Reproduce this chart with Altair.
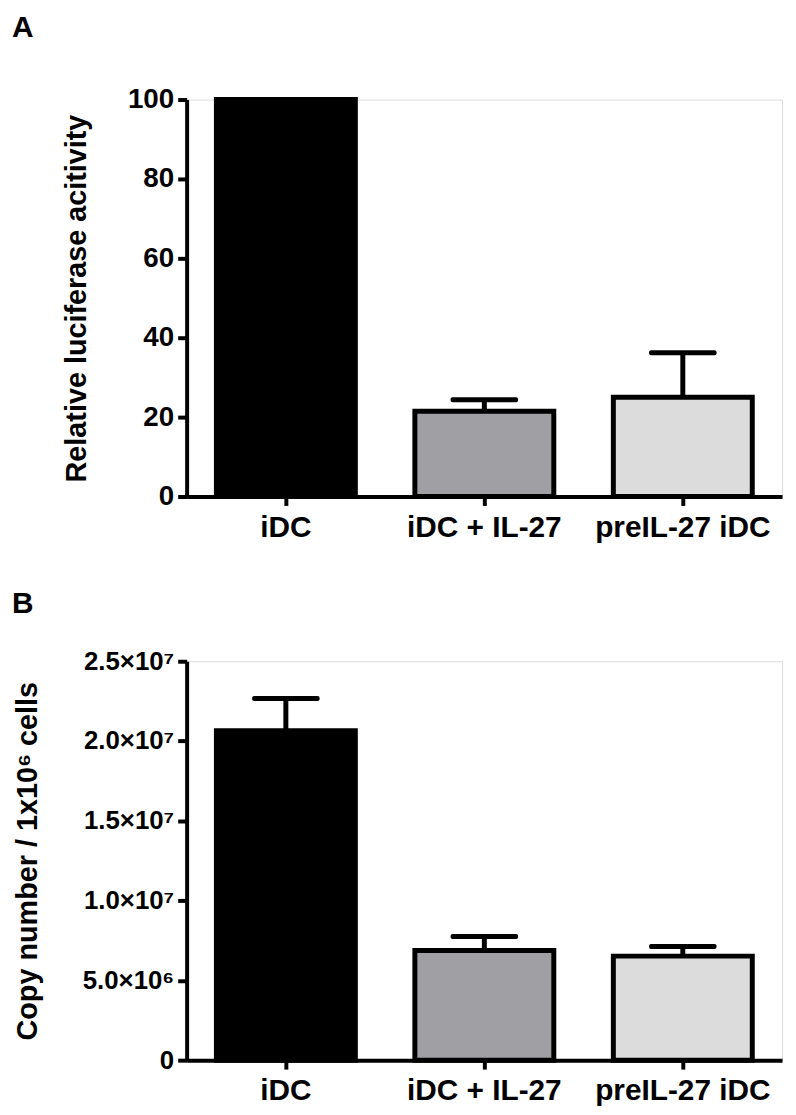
import altair as alt
import pandas as pd

categories = ["iDC", "iDC + IL-27", "preIL-27 iDC"]
fills = ["#000000", "#a0a0a4", "#dcdcdc"]

luc_mean = [100.0, 21.5, 25.0]
luc_sem = [0.0, 2.9, 11.2]
luc_ticks = [0, 20, 40, 60, 80, 100]

copy_mean = [2.064e7, 0.687e7, 0.652e7]
copy_sem = [0.202e7, 0.088e7, 0.060e7]
copy_ticks = [0, 5e6, 1e7, 1.5e7, 2e7, 2.5e7]
copy_tick_labels = ["0", "5.0\u00d710\u2076", "1.0\u00d710\u2077", "1.5\u00d710\u2077",
                    "2.0\u00d710\u2077", "2.5\u00d710\u2077"]

FONT = "Liberation Sans"


def make_df(means, sems):
    return pd.DataFrame({
        "cat": categories,
        "mean": means,
        "top": [m + s for m, s in zip(means, sems)],
        "sem": sems,
    })


def panel(df, letter, ytitle, ydomain, yticks, label_expr, label_size, title_pad,
          letter_offset, height):
    x_enc = alt.X("cat:N", sort=categories,
                  scale=alt.Scale(paddingInner=0.3, paddingOuter=0.15),
                  axis=alt.Axis(title=None, labelAngle=0, labelAlign="center",
                                labelBaseline="top", labelFontSize=30,
                                labelFont=FONT, labelFontWeight="bold",
                                labelColor="black", labelPadding=7,
                                domainColor="black", domainWidth=4,
                                tickColor="black", tickWidth=4, tickSize=9))
    axis_kw = dict(title=ytitle, values=yticks, grid=False,
                   labelFontSize=label_size, labelFont=FONT,
                   labelFontWeight="bold", labelColor="black", labelPadding=4,
                   titleFontSize=29, titleFont=FONT, titleFontWeight="bold",
                   titleColor="black", titlePadding=title_pad,
                   domainColor="black", domainWidth=4,
                   tickColor="black", tickWidth=4, tickSize=9)
    if label_expr:
        axis_kw["labelExpr"] = label_expr
    y_axis = alt.Axis(**axis_kw)
    yscale = alt.Scale(domain=ydomain, nice=False)
    base = alt.Chart(df)
    bars = base.mark_bar(stroke="black", strokeWidth=5).encode(
        x=x_enc,
        y=alt.Y("mean:Q", scale=yscale, axis=y_axis),
        fill=alt.Fill("cat:N", sort=categories,
                      scale=alt.Scale(domain=categories, range=fills), legend=None),
    )
    errdf = base.transform_filter("datum.sem > 0")
    rule = errdf.mark_rule(color="black", strokeWidth=5).encode(
        x=x_enc,
        y=alt.Y("mean:Q", scale=yscale, axis=y_axis),
        y2="top:Q",
    )
    cap = errdf.mark_tick(color="black", thickness=5, size=68, cornerRadius=2,
                          opacity=1).encode(
        x=x_enc,
        y=alt.Y("top:Q", scale=yscale, axis=y_axis),
    )
    return alt.layer(rule, bars, cap).properties(
        width=600, height=height,
        title=alt.TitleParams(letter, anchor="start", frame="group", fontSize=30,
                              font=FONT, fontWeight="bold", color="black",
                              dx=-176, offset=letter_offset),
    )


expr_parts = []
for v, lab in zip(copy_ticks, copy_tick_labels):
    expr_parts.append(f"datum.value == {v} ? '{lab}'")
label_expr = " : ".join(expr_parts) + " : ''"

pa = panel(make_df(luc_mean, luc_sem), "A", "Relative luciferase acitivity",
           [0, 100], luc_ticks, None, 28, 36, 43, 400)
pb = panel(make_df(copy_mean, copy_sem), "B", "Copy number / 1x10\u2076 cells",
           [0, 2.5e7], copy_ticks, label_expr, 26, 40, 30, 402)

chart = alt.vconcat(pa, pb, spacing=166, bounds="flush").properties(
    padding={"left": 3, "top": 0, "right": 5, "bottom": 5}
).configure_view(stroke=None).configure(background="white")

chart.save("out.html", embed_options={"renderer": "svg", "actions": False})
